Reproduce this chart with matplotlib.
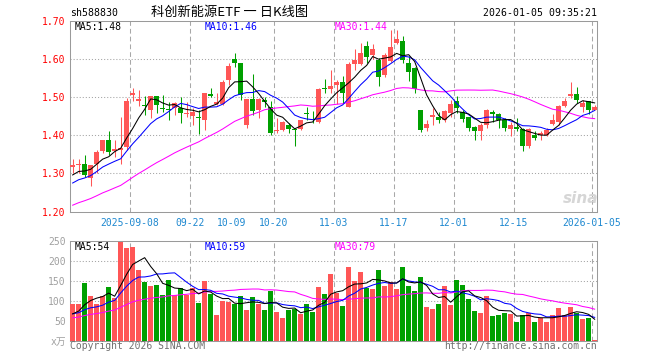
import matplotlib
matplotlib.use('Agg')
import matplotlib.pyplot as plt
import numpy as np
import pandas as pd

plt.rcParams['font.family'] = ['DejaVu Sans Mono', 'Noto Sans CJK SC']
plt.rcParams['lines.scale_dashes'] = False

# ---------------- data ----------------
open_ = [1.318, 1.323, 1.325, 1.289, 1.325, 1.360, 1.388, 1.358, 1.361, 1.370,
         1.506, 1.491, 1.478, 1.465, 1.502, 1.472, 1.469, 1.471, 1.471, 1.457,
         1.451, 1.448, 1.440, 1.509, 1.483, 1.482, 1.544, 1.601, 1.588, 1.427,
         1.496, 1.467, 1.493, 1.474, 1.412, 1.414, 1.427, 1.415, 1.416, 1.459,
         1.449, 1.436, 1.524, 1.522, 1.531, 1.539, 1.475, 1.587, 1.587, 1.635,
         1.610, 1.596, 1.557, 1.594, 1.642, 1.648, 1.589, 1.575, 1.467, 1.420,
         1.449, 1.447, 1.440, 1.458, 1.490, 1.462, 1.447, 1.423, 1.410, 1.427,
         1.462, 1.456, 1.440, 1.416, 1.421, 1.416, 1.372, 1.401, 1.401, 1.401,
         1.430, 1.436, 1.477, 1.502, 1.509, 1.475, 1.489, 1.467]
high = [1.339, 1.339, 1.348, 1.322, 1.361, 1.389, 1.410, 1.389, 1.447, 1.497,
        1.524, 1.519, 1.502, 1.502, 1.504, 1.506, 1.486, 1.486, 1.500, 1.486,
        1.471, 1.467, 1.512, 1.524, 1.510, 1.546, 1.589, 1.616, 1.590, 1.496,
        1.561, 1.498, 1.500, 1.490, 1.445, 1.438, 1.431, 1.416, 1.441, 1.475,
        1.464, 1.523, 1.547, 1.572, 1.546, 1.554, 1.592, 1.627, 1.642, 1.648,
        1.639, 1.603, 1.616, 1.675, 1.675, 1.660, 1.607, 1.578, 1.467, 1.440,
        1.471, 1.462, 1.467, 1.493, 1.502, 1.467, 1.449, 1.424, 1.432, 1.468,
        1.467, 1.458, 1.445, 1.436, 1.445, 1.418, 1.418, 1.410, 1.410, 1.418,
        1.456, 1.480, 1.497, 1.539, 1.526, 1.493, 1.491, 1.479]
low = [1.300, 1.300, 1.291, 1.267, 1.302, 1.353, 1.348, 1.344, 1.326, 1.361,
       1.490, 1.477, 1.454, 1.445, 1.458, 1.462, 1.439, 1.454, 1.433, 1.447,
       1.427, 1.404, 1.414, 1.500, 1.480, 1.480, 1.532, 1.578, 1.492, 1.418,
       1.453, 1.445, 1.475, 1.401, 1.405, 1.411, 1.407, 1.372, 1.414, 1.440,
       1.432, 1.433, 1.512, 1.511, 1.482, 1.484, 1.473, 1.572, 1.583, 1.589,
       1.601, 1.528, 1.552, 1.592, 1.638, 1.589, 1.541, 1.511, 1.408, 1.411,
       1.427, 1.431, 1.436, 1.449, 1.458, 1.436, 1.410, 1.389, 1.388, 1.418,
       1.436, 1.418, 1.410, 1.398, 1.410, 1.360, 1.368, 1.388, 1.388, 1.398,
       1.427, 1.427, 1.475, 1.497, 1.484, 1.462, 1.456, 1.466]
close = [1.321, 1.326, 1.296, 1.322, 1.356, 1.388, 1.357, 1.363, 1.366, 1.491,
         1.512, 1.495, 1.476, 1.502, 1.480, 1.470, 1.467, 1.484, 1.458, 1.459,
         1.460, 1.446, 1.512, 1.502, 1.488, 1.539, 1.582, 1.588, 1.505, 1.495,
         1.464, 1.495, 1.486, 1.405, 1.414, 1.436, 1.417, 1.413, 1.440, 1.457,
         1.447, 1.521, 1.522, 1.528, 1.539, 1.511, 1.587, 1.596, 1.616, 1.605,
         1.627, 1.552, 1.611, 1.631, 1.651, 1.596, 1.566, 1.522, 1.414, 1.430,
         1.454, 1.440, 1.464, 1.482, 1.471, 1.442, 1.420, 1.410, 1.427, 1.465,
         1.456, 1.440, 1.418, 1.427, 1.416, 1.372, 1.416, 1.394, 1.405, 1.414,
         1.440, 1.477, 1.491, 1.507, 1.493, 1.484, 1.465, 1.475]
volume = [92, 92, 145, 112, 91, 112, 135, 106, 247, 231,
          234, 178, 148, 137, 140, 114, 153, 114, 131, 114,
          131, 95, 150, 118, 64, 99, 97, 91, 112, 76,
          109, 91, 76, 125, 71, 56, 76, 80, 66, 91,
          71, 135, 116, 168, 120, 86, 184, 150, 171, 131,
          130, 178, 137, 146, 130, 184, 137, 125, 160, 84,
          79, 92, 137, 89, 153, 140, 104, 74, 69, 112,
          61, 64, 69, 66, 48, 64, 69, 48, 58, 48,
          64, 81, 64, 84, 69, 54, 58, 3]
# estimated closes / volumes of the 29 sessions before the window (feed the MAs)
prior_close = [1.13, 1.14, 1.15, 1.14, 1.16, 1.17, 1.16, 1.17, 1.18, 1.19,
               1.19, 1.20, 1.21, 1.20, 1.22, 1.21, 1.22, 1.23, 1.24, 1.25,
               1.24, 1.25, 1.26, 1.25, 1.27, 1.28, 1.29, 1.30, 1.29]
prior_volume = [28, 32, 25, 30, 35, 27, 30, 33, 28, 32,
                60, 70, 65, 80, 75, 72, 85, 78, 80, 75,
                62, 70, 65, 68, 70, 58, 65, 60, 61]

tick_idx = [10, 20, 27, 34, 44, 54, 64, 74, 87]
tick_labels = ['2025-09-08', '09-22', '10-09', '10-20', '11-03', '11-17',
               '12-01', '12-15', '2026-01-05']
grid_idx = [10, 20, 34, 44, 54, 64, 74, 87]
price_ticks = [1.20, 1.30, 1.40, 1.50, 1.60, 1.70]
vol_ticks = [0, 50, 100, 150, 200, 250]
vol_tick_labels = ['x万', '50', '100', '150', '200', '250']

# ---------------- styling ----------------
W, H = 660, 360
RED = '#ff5656'
GREEN = '#00a000'
GRID = '#a8a8a8'
SPINE = '#9a9a9a'
FS = 7.0
LW = 0.75

def fx(px):
    return px / W

def fy(py):
    return 1 - py / H

fig = plt.figure(figsize=(W / 100, H / 100), dpi=100)
ax = fig.add_axes([fx(70), fy(211.7), (597 - 70) / W, (211.7 - 20.7) / H])
axv = fig.add_axes([fx(70), fy(340.7), (597 - 70) / W, (340.7 - 240.7) / H])

n = len(close)
x = np.arange(n)
o = np.array(open_)
c = np.array(close)
hi = np.array(high)
lo = np.array(low)
up = c >= o
colors = [RED if u else GREEN for u in up]

full_close = pd.Series(prior_close + close)
full_vol = pd.Series(prior_volume + volume)
k = len(prior_close)
ma = {p: full_close.rolling(p).mean().values[k:] for p in (5, 10, 30)}
vma = {p: full_vol.rolling(p).mean().values[k:] for p in (5, 10, 30)}

xmin, xmax = -0.445, 87.39
BW = 0.86

# ---- price panel ----
ax.vlines(x, lo, hi, colors=colors, linewidth=LW, zorder=3)
body_h = np.maximum(np.abs(c - o), 0.0022)
ax.bar(x, body_h, bottom=np.minimum(o, c), width=BW, color=colors,
       linewidth=0, zorder=4)
ax.plot(x, ma[30], color='#ff00ff', lw=LW, zorder=5)
ax.plot(x, ma[10], color='#0000ff', lw=LW, zorder=5)
ax.plot(x, ma[5], color='black', lw=LW, zorder=5)

ax.set_xlim(xmin, xmax)
ax.set_ylim(1.20, 1.70)
for g in grid_idx:
    ax.axvline(g - 0.445, color=GRID, lw=LW, ls=(0, (3.4, 2.2)), zorder=1)
for yv in price_ticks[1:-1]:
    ax.axhline(yv, color=GRID, lw=LW, ls=(0, (0.8, 1.4)), zorder=1)
ax.set_yticks(price_ticks)
ax.set_yticklabels(['%.2f' % t for t in price_ticks], color='#ff0000', fontsize=FS)
ax.set_xticks([t - 0.445 for t in tick_idx])
ax.set_xticklabels(tick_labels, color='#1e88d0', fontsize=FS)
ax.tick_params(length=0, pad=3)
ax.tick_params(axis='x', pad=4.5)
for s in ax.spines.values():
    s.set_color(SPINE)
    s.set_linewidth(LW)

# ---- volume panel ----
axv.bar(x, volume, width=BW, color=colors, linewidth=0, zorder=3)
axv.plot(x, vma[30], color='#ff00ff', lw=LW, zorder=5)
axv.plot(x, vma[10], color='#0000ff', lw=LW, zorder=5)
axv.plot(x, vma[5], color='black', lw=LW, zorder=5)
axv.set_xlim(xmin, xmax)
axv.set_ylim(0, 250)
for g in grid_idx:
    axv.axvline(g - 0.445, color=GRID, lw=LW, ls=(0, (3.4, 2.2)), zorder=1)
for yv in [100, 150, 200]:
    axv.axhline(yv, color=GRID, lw=LW, ls=(0, (0.8, 1.4)), zorder=1)
axv.set_yticks(vol_ticks)
axv.set_yticklabels(vol_tick_labels, color='#a0a0a0', fontsize=FS)
axv.set_xticks([])
axv.tick_params(length=0, pad=3)
for s in axv.spines.values():
    s.set_color(SPINE)
    s.set_linewidth(LW)

# ---- texts ----
fig.text(fx(70), fy(13), 'sh588830', fontsize=7.1, color='black', va='center', ha='left')
fig.text(fx(230), fy(12), '科创新能源ETF 一 日K线图', fontsize=9.5, color='black',
         va='center', ha='center', family=['Noto Sans CJK SC', 'DejaVu Sans'])
fig.text(fx(597), fy(13), '2026-01-05 09:35:21', fontsize=7.1, color='black',
         va='center', ha='right')

for px, txt, col in [(75, 'MA5:1.48', 'black'), (205, 'MA10:1.46', '#0000ff'),
                     (335, 'MA30:1.44', '#ff00ff')]:
    fig.text(fx(px), fy(27), txt, fontsize=FS, color=col, va='center', ha='left')
for px, txt, col in [(75, 'MA5:54', 'black'), (205, 'MA10:59', '#0000ff'),
                     (335, 'MA30:79', '#ff00ff')]:
    fig.text(fx(px), fy(246.5), txt, fontsize=FS, color=col, va='center', ha='left')

fig.text(fx(581), fy(198), 'sina', fontsize=11, color='#d6d6d6', va='center',
         ha='center', fontweight='bold', style='italic', family='DejaVu Sans', zorder=0)

fig.text(fx(70), fy(346), 'Copyright 2026 SINA.COM', fontsize=FS, color='#707070',
         va='center', ha='left')
fig.text(fx(597), fy(346), 'http://finance.sina.com.cn', fontsize=FS, color='#707070',
         va='center', ha='right')

fig.savefig('out.png', dpi=100)
